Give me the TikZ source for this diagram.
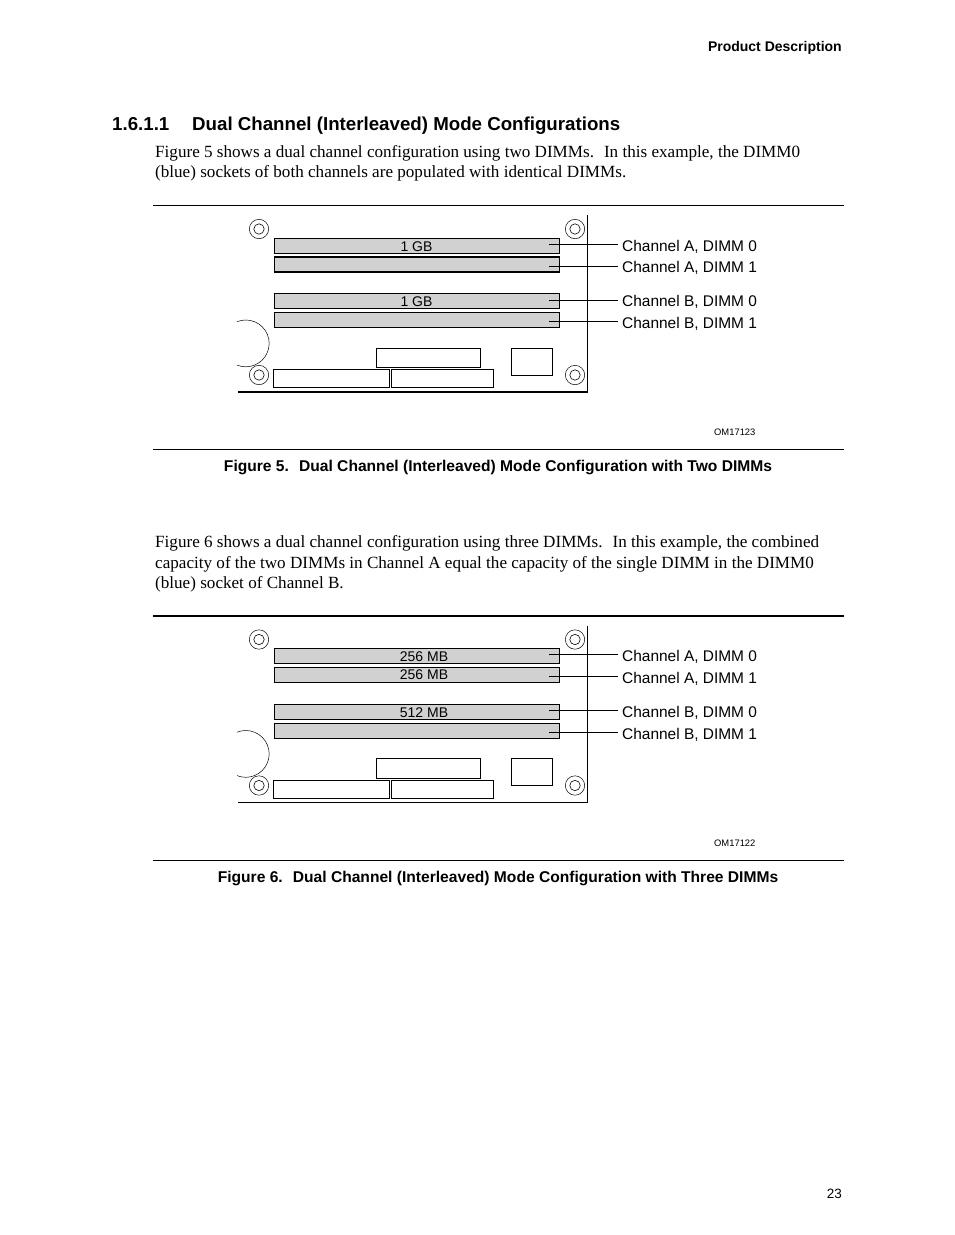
\documentclass[tikz,border=0pt]{standalone}
\usepackage{fontspec}
\setmainfont{Liberation Serif}
\setsansfont{Liberation Sans}
\usetikzlibrary{positioning,calc}
\tikzset{
  dimmslot/.style={draw,fill=black!18,line width=0.9pt,inner sep=0pt,minimum width=285pt},
  partbox/.style={draw,line width=0.8pt,inner sep=0pt},
  slottext/.style={font=\sffamily\fontsize{14}{15}\selectfont,inner sep=0pt},
  chanlabel/.style={font=\sffamily\fontsize{15.45}{18}\selectfont,anchor=west,inner sep=4pt},
  bodytext/.style={font=\fontsize{17.1}{20.5}\selectfont,anchor=north west,align=left,inner sep=0pt},
  captext/.style={font=\sffamily\bfseries\fontsize{15.6}{18}\selectfont,inner sep=0pt},
  omtext/.style={font=\sffamily\fontsize{9.4}{12}\selectfont,inner sep=0pt},
  pagerule/.style={line width=0.9pt},
  leader/.style={line width=0.8pt}
}
\begin{document}
\begin{tikzpicture}[x=1pt,y=-1pt]
  \useasboundingbox (0,0) rectangle (954,1235);
  \fill[white] (0,0) rectangle (954,1235);
  % page head
  \node[font=\sffamily\bfseries\fontsize{14}{17}\selectfont,anchor=east,inner sep=0pt] (pagehead) at (842,47.5) {Product Description};
  \node[font=\sffamily\bfseries\fontsize{18.7}{22}\selectfont,anchor=base west,inner sep=0pt] (secnum) at (112,130) {1.6.1.1};
  \node[font=\sffamily\bfseries\fontsize{18.7}{22}\selectfont,anchor=base west,inner sep=0pt] (sectitle) at (192,130) {Dual Channel (Interleaved) Mode Configurations};
  \node[bodytext,font=\fontsize{17.1}{20}\selectfont] (introA) at (155,145.5) {Figure 5 shows a dual channel configuration using two DIMMs.~ In this example, the DIMM0\\(blue) sockets of both channels are populated with identical DIMMs.};
  \node[bodytext] (introB) at (155,535.5) {Figure 6 shows a dual channel configuration using three DIMMs.~ In this example, the combined\\capacity of the two DIMMs in Channel A equal the capacity of the single DIMM in the DIMM0\\(blue) socket of Channel B.};
  % rules
  \draw[pagerule] (153,205.5) -- (844,205.5);
  \draw[pagerule] (153,449.5) -- (844,449.5);
  \draw[line width=1.6pt] (153,615.7) -- (844,615.7);
  \draw[pagerule] (153,860.5) -- (844,860.5);
  % parts that both boards share
  \foreach \yoff in {0,410.5} {
    \begin{scope}[shift={(0,\yoff)}]
      \foreach \sx/\sy in {259/229,575/229,259/375,575/375} {
        \draw[line width=0.5pt] (\sx,\sy) circle (9.7);
        \draw[line width=0.6pt] (\sx,\sy) circle (5.2);
      }
      \draw[line width=0.5pt] (237,321.7) arc[start angle=-112,end angle=112,radius=23.4];
      \node[partbox,minimum width=104pt,minimum height=19.5pt] (chipA\yoff) at (428.5,357.8) {};
      \node[partbox,minimum width=41.5pt,minimum height=27pt] (chipB\yoff) at (531.8,361.5) {};
      \node[partbox,minimum width=116pt,minimum height=18pt] (portA\yoff) at (331.5,378.5) {};
      \node[partbox,minimum width=102.5pt,minimum height=18pt] (portB\yoff) at (442.2,378.5) {};
      \draw[line width=0.8pt] (587.5,215) -- (587.5,391.5);
    \end{scope}
  }
  \draw[line width=2pt] (238,391.5) -- (588,391.5);
  \draw[line width=0.8pt] (238,802) -- (588,802);
  % first board
  \node[dimmslot,minimum height=15.5pt] (slotAa) at (417,245.8) {};
  \node[dimmslot,minimum height=15pt,line width=1.6pt] (slotAb) at (417,264.5) {};
  \node[dimmslot,minimum height=15.5pt] (slotBa) at (417,300.8) {};
  \node[dimmslot,minimum height=15.5pt] (slotBb) at (417,319.8) {};
  \node[slottext] (sizeAa) at (416.5,246.5) {1 GB};
  \node[slottext] (sizeBa) at (416.5,301.5) {1 GB};
  \node[chanlabel] (chanAa) at (618,247) {Channel A, DIMM 0};
  \node[chanlabel] (chanAb) at (618,268) {Channel A, DIMM 1};
  \node[chanlabel] (chanBa) at (618,302) {Channel B, DIMM 0};
  \node[chanlabel] (chanBb) at (618,324) {Channel B, DIMM 1};
  \coordinate (tapAa) at (549,244);
  \coordinate (tapAb) at (549,266);
  \coordinate (tapBa) at (549,300);
  \coordinate (tapBb) at (549,321.5);
  \foreach \nm in {Aa,Ab,Ba,Bb}
    \draw[leader] (tap\nm) -- (tap\nm -| chan\nm.west);
  \node[omtext] (omA) at (734.8,432) {OM17123};
  \node[captext] (capA) at (498,467.5) {Figure 5.~ Dual Channel (Interleaved) Mode Configuration with Two DIMMs};
  % second board
  \node[dimmslot,minimum height=15pt,line width=1.6pt] (slotCa) at (417,656) {};
  \node[dimmslot,minimum height=15.5pt] (slotCb) at (417,674.8) {};
  \node[dimmslot,minimum height=15.5pt] (slotDa) at (417,711.8) {};
  \node[dimmslot,minimum height=15.5pt] (slotDb) at (417,730.8) {};
  \node[slottext] (sizeCa) at (424,656.5) {256 MB};
  \node[slottext] (sizeCb) at (424,674.5) {256 MB};
  \node[slottext] (sizeDa) at (424,712.5) {512 MB};
  \node[chanlabel] (chanCa) at (618,657) {Channel A, DIMM 0};
  \node[chanlabel] (chanCb) at (618,679) {Channel A, DIMM 1};
  \node[chanlabel] (chanDa) at (618,713) {Channel B, DIMM 0};
  \node[chanlabel] (chanDb) at (618,735) {Channel B, DIMM 1};
  \coordinate (tapCa) at (549,654.5);
  \coordinate (tapCb) at (549,676.5);
  \coordinate (tapDa) at (549,710);
  \coordinate (tapDb) at (549,732);
  \foreach \nm in {Ca,Cb,Da,Db}
    \draw[leader] (tap\nm) -- (tap\nm -| chan\nm.west);
  \node[omtext] (omB) at (734.8,843) {OM17122};
  \node[captext] (capB) at (498,878.5) {Figure 6.~ Dual Channel (Interleaved) Mode Configuration with Three DIMMs};
  % page number
  \node[font=\sffamily\fontsize{13.5}{16}\selectfont,anchor=east,inner sep=0pt] (pagenum) at (842,1194) {23};
\end{tikzpicture}
\end{document}
